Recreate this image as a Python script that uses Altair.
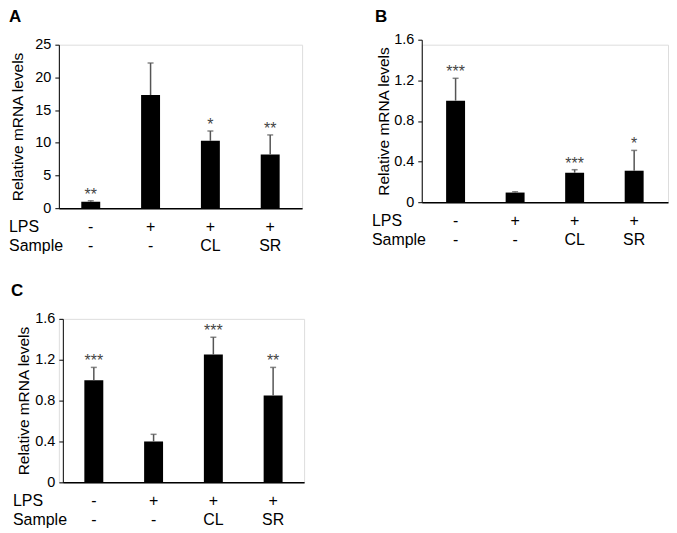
import altair as alt
import pandas as pd

groups = ["G1", "G2", "G3", "G4"]
lps = ["-", "+", "+", "+"]
sample = ["-", "-", "CL", "SR"]

a_mean = [1.0, 17.3, 10.3, 8.2]
a_err = [0.15, 4.9, 1.5, 3.0]
a_sig = ["**", "", "*", "**"]

b_mean = [1.0, 0.095, 0.29, 0.31]
b_err = [0.22, 0.008, 0.03, 0.20]
b_sig = ["***", "", "***", "*"]

c_mean = [1.0, 0.40, 1.25, 0.85]
c_err = [0.125, 0.07, 0.17, 0.275]
c_sig = ["***", "", "***", "**"]

a_ticks = [0, 5, 10, 15, 20, 25]
bc_ticks = [0, 0.4, 0.8, 1.2, 1.6]

FONT = "Liberation Sans"
ERR_COLOR = "#555555"


def make_panel(letter, mean, err, sig, ymax, yticks, w, h, shift, po,
               letter_x, letter_y, title_x, xoff=0):
    df = pd.DataFrame({
        "g": groups,
        "mean": mean,
        "top": [m + e for m, e in zip(mean, err)],
        "sig": sig,
        "lps": lps,
        "sample": sample,
    })
    xscale = alt.Scale(domain=groups, paddingInner=0.683, paddingOuter=po,
                       range=[xoff, xoff + w])
    xaxis = alt.Axis(title=None, labels=False, ticks=False, domain=True,
                     domainColor="black", domainWidth=1.5, grid=False)
    x = alt.X("g:N", sort=groups, scale=xscale, axis=xaxis)
    yscale = alt.Scale(domain=[0, ymax], range=[h, -shift], nice=False, zero=True)
    yaxis = alt.Axis(title="Relative mRNA levels", values=yticks,
                     labelExpr="'' + datum.value", grid=False,
                     tickSize=4, tickColor="black", tickWidth=1,
                     domainColor="black", domainWidth=1,
                     labelFontSize=14.5, labelColor="black", labelPadding=4,
                     titleFontSize=15.5, titleFontWeight="normal", titleColor="black",
                     titleX=title_x, titleBaseline="alphabetic", offset=-xoff)
    base = alt.Chart(df)
    bars = base.mark_bar(color="black", size=19).encode(
        x=x, y=alt.Y("mean:Q", scale=yscale, axis=yaxis))
    rule = base.mark_rule(color=ERR_COLOR, strokeWidth=1.5).encode(
        x=x, y=alt.Y("mean:Q", scale=yscale, axis=yaxis), y2="top:Q")
    cap = base.mark_tick(color=ERR_COLOR, thickness=1.5, size=6,
                         orient="horizontal").encode(
        x=x, y=alt.Y("top:Q", scale=yscale, axis=yaxis))
    stars = base.mark_text(color="#444444", fontSize=16, baseline="alphabetic",
                           dy=-1).encode(
        x=x, y=alt.Y("top:Q", scale=yscale, axis=yaxis), text="sig:N")
    row1 = base.mark_text(fontSize=16, baseline="middle", color="black").encode(
        x=x, y=alt.value(h + 19), text="lps:N")
    row2 = base.mark_text(fontSize=16, baseline="middle", color="black").encode(
        x=x, y=alt.value(h + 38), text="sample:N")
    lab1 = alt.Chart(pd.DataFrame({"t": ["LPS"]})).mark_text(
        fontSize=16, baseline="middle", align="left", color="black").encode(
        x=alt.value(-50 + xoff), y=alt.value(h + 19), text="t:N")
    lab2 = alt.Chart(pd.DataFrame({"t": ["Sample"]})).mark_text(
        fontSize=16, baseline="middle", align="left", color="black").encode(
        x=alt.value(-50 + xoff), y=alt.value(h + 38), text="t:N")
    let = alt.Chart(pd.DataFrame({"t": [letter]})).mark_text(
        fontSize=17, fontWeight="bold", baseline="alphabetic", align="left",
        color="black").encode(
        x=alt.value(letter_x), y=alt.value(letter_y), text="t:N")
    return alt.layer(bars, rule, cap, stars, row1, row2, lab1, lab2, let).properties(
        width=w + xoff, height=h)


pa = make_panel("A", a_mean, a_err, a_sig, 25, a_ticks, 244, 164, 0, 0.375,
                -50, -23, -36.5)
pb = make_panel("B", b_mean, b_err, b_sig, 1.6, bc_ticks, 247, 158, 5, 0.41,
                -47, -23, -33.5)
pc = make_panel("C", c_mean, c_err, c_sig, 1.6, bc_ticks, 242, 164, 0, 0.36,
                -48, -23, -34.5, xoff=4)

top = alt.hconcat(pa, pb, spacing=68)
chart = alt.vconcat(top, pc, spacing=26).properties(
    padding={"left": 0, "top": -2, "right": 0, "bottom": 0}
).configure_view(stroke=None).configure(font=FONT)

chart.save("out.html", embed_options={"renderer": "svg", "actions": False})
